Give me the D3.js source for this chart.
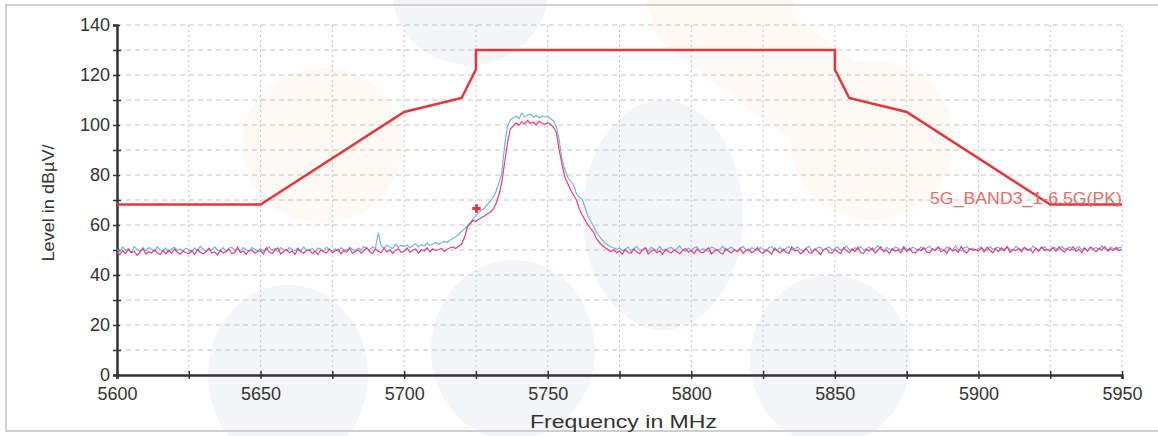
<!DOCTYPE html>
<meta charset="utf-8">
<style>
body { margin: 0; background: #fff; }
text { font-family: "Liberation Sans", Arial, sans-serif; fill: #333; }
</style>
<body>
<script src="https://d3js.org/d3.v7.min.js"></script>
<script>

// sweep: 5600 MHz, one reading per MHz
var sweepStart = 5600, sweepStep = 1;

// pink trace (dBuV/m), 25 readings per row
var tracePink = [
  49.2,48.1,49.8,48.6,50.3,48.9,49.5,47.9,49.1,50.6,48.4,49.3,48.8,50.1,49.0,48.2,49.7,48.5,49.9,48.7,50.4,49.1,48.3,49.6,48.9,
  48.6,49.8,48.2,50.2,49.1,48.5,49.4,50.7,48.8,49.2,48.0,49.9,48.7,49.5,50.3,48.6,49.0,51.2,48.9,49.6,48.3,49.8,50.0,48.7,49.4,
  49.7,48.4,50.9,49.2,48.6,49.9,50.8,48.5,49.3,50.2,48.9,49.6,48.2,50.5,49.4,48.7,49.8,50.1,48.6,49.5,48.3,50.0,49.2,48.8,50.4,
  48.9,49.6,50.3,48.5,49.8,49.1,50.6,48.7,49.4,50.0,48.8,49.7,50.9,49.3,48.6,50.4,49.5,48.9,50.8,49.2,50.1,48.7,49.9,50.5,49.0,
  49.5,50.8,49.1,49.9,50.4,48.8,50.2,49.6,50.9,49.3,50.5,49.8,50.1,50.7,49.4,50.3,50.9,51.2,50.6,51.5,52.3,55.0,59.0,60.5,61.8,
  61.5,62.3,63.0,63.6,64.5,65.2,66.3,68.5,72.0,77.0,85.0,93.0,98.5,99.6,100.8,99.9,101.3,100.4,101.8,100.6,101.2,100.1,101.5,100.7,100.3,
  100.9,100.2,99.1,97.0,90.0,84.0,79.0,76.5,74.0,72.0,70.0,66.5,64.0,62.0,60.0,58.5,57.0,54.5,53.0,51.8,50.9,50.2,49.4,50.1,48.9,
  49.6,48.3,50.2,49.0,48.7,50.5,49.2,48.6,49.9,50.8,48.4,49.5,50.1,48.9,49.7,48.2,50.3,49.4,48.8,50.0,49.3,48.5,49.8,50.6,49.1,
  49.9,48.6,50.4,49.2,48.9,49.7,50.9,48.5,49.4,50.2,49.0,48.3,50.6,49.5,48.8,50.1,49.3,50.7,48.6,49.8,50.3,48.9,49.6,51.0,49.2,
  48.7,50.1,49.4,48.4,50.8,49.6,48.9,50.3,49.1,48.6,51.2,49.7,50.0,48.5,49.3,50.6,49.0,48.8,50.4,49.5,48.2,49.9,50.7,49.1,48.7,
  50.2,49.3,48.6,50.9,49.8,48.9,50.5,49.4,51.1,49.0,48.7,50.3,49.6,50.8,48.8,49.9,51.3,49.2,50.0,48.6,50.6,49.5,50.2,48.9,51.0,
  49.4,50.7,49.1,48.8,50.4,49.7,51.0,49.2,48.9,50.5,49.8,51.2,49.3,50.0,48.7,50.9,49.6,50.3,49.0,51.4,49.5,48.8,50.6,49.9,50.2,
  49.6,50.8,49.2,51.1,49.9,48.9,50.5,49.4,50.9,49.7,51.3,49.0,50.2,49.8,50.6,49.3,51.0,49.9,50.4,48.9,50.7,49.5,51.2,49.8,50.1,
  49.7,50.9,49.4,51.2,50.0,49.1,50.6,49.8,51.3,49.5,50.4,48.9,50.8,49.6,51.1,50.2,49.3,50.7,49.9,51.4,49.6,50.5,49.8,51.0,49.7,
  50.3
];

// blue trace (dBuV/m)
var traceBlue = [
  50.1,49.3,51.2,49.8,50.6,48.9,51.4,50.2,49.5,50.9,49.7,51.0,50.3,49.4,51.3,50.0,49.6,50.8,49.2,50.5,51.1,49.9,50.4,49.6,50.7,
  50.2,49.1,50.8,49.7,51.5,50.3,49.4,50.6,49.9,51.2,50.0,49.5,50.9,49.3,50.7,51.1,49.8,50.4,49.6,50.9,50.2,49.4,51.0,50.3,49.7,
  50.6,49.5,50.1,51.3,49.8,50.7,49.2,50.9,50.3,49.6,51.0,50.2,49.7,50.8,49.4,51.2,50.0,49.9,50.6,49.3,50.8,50.4,49.6,51.1,50.0,
  49.7,50.5,49.4,50.9,50.2,49.8,51.1,50.3,49.6,50.8,50.0,51.4,50.6,49.9,51.2,50.7,57.0,51.5,50.8,51.9,51.2,50.6,52.3,51.0,51.8,
  51.4,52.0,50.9,51.8,52.5,51.2,52.1,51.6,52.8,51.9,52.4,53.0,52.2,52.9,53.4,53.1,54.0,54.6,55.3,56.2,57.5,58.4,59.6,61.0,62.3,
  63.8,65.1,66.0,66.8,68.2,69.4,71.0,73.5,76.8,80.5,92.0,99.5,102.0,102.9,103.5,102.6,104.8,103.3,103.9,104.4,103.1,104.0,102.8,103.6,103.2,
  103.4,102.5,101.6,99.5,94.0,86.0,82.0,79.0,77.5,76.0,72.5,71.0,70.3,67.0,63.5,61.5,59.5,57.0,55.5,54.0,52.8,52.0,51.2,50.8,50.3,
  50.8,49.7,50.3,51.2,49.5,50.6,51.4,49.9,50.2,50.9,49.6,51.1,50.4,49.8,51.3,50.1,49.5,50.7,51.0,49.9,50.5,51.6,50.0,49.4,50.8,
  49.8,50.9,51.3,49.6,50.5,50.0,49.4,51.2,50.7,49.9,50.3,51.5,49.7,50.6,51.1,50.2,49.5,50.8,51.4,50.0,49.6,50.9,50.3,49.8,51.0,
  50.4,49.5,50.9,51.3,49.8,50.2,51.0,49.6,50.7,51.4,49.9,50.5,51.2,50.1,49.7,50.8,51.5,49.4,50.3,50.9,51.1,49.8,50.6,51.3,50.0,
  50.7,51.2,49.9,50.4,51.6,50.1,49.7,50.9,50.3,51.4,49.8,50.6,51.1,49.9,50.5,51.7,50.2,49.6,51.0,50.4,49.8,51.3,50.7,50.0,51.5,
  50.3,49.8,51.1,50.6,49.7,51.3,50.2,50.8,51.5,49.9,50.4,51.0,50.6,49.8,51.2,50.5,50.0,51.6,50.3,49.7,50.9,51.3,50.1,50.7,49.9,
  50.6,51.2,50.0,49.7,51.4,50.3,50.9,51.1,49.8,50.5,51.3,50.2,49.9,51.5,50.7,50.1,51.0,50.4,49.8,51.6,50.6,50.0,50.8,51.3,50.2,
  50.4,51.1,50.7,49.9,51.5,50.3,50.8,51.2,49.8,50.6,51.4,50.1,50.9,49.7,51.3,50.5,51.0,50.2,51.6,50.4,49.9,51.2,50.6,50.0,51.1,
  50.8
];

// limit line 5G_BAND3_1-6.5G(PK)
var limitFreq  = [5600, 5650, 5700, 5720, 5725, 5725, 5850, 5850, 5855, 5875, 5925, 5950];
var limitLevel = [68.2, 68.2, 105.2, 110.8, 122.2, 130, 130, 122.2, 110.8, 105.2, 68.2, 68.2];
var limitName = "5G_BAND3_1-6.5G(PK)";

// marker
var markerFreq = [5725.2];
var markerLevel = [66.6];

var xTicks = [5600, 5650, 5700, 5750, 5800, 5850, 5900, 5950];
var xMinor = [5625, 5675, 5725, 5775, 5825, 5875, 5925];
var yTicks = [0, 20, 40, 60, 80, 100, 120, 140];
var yMinor = [10, 30, 50, 70, 90, 110, 130];

var W = 1158, H = 436;
var margin = {top: 25, right: 36, bottom: 61, left: 117};
var width = W - margin.left - margin.right,
    height = H - margin.top - margin.bottom;

var svg = d3.select("body").append("svg")
    .attr("width", W)
    .attr("height", H);

// faint background watermark blobs
var blobs = [
  {cx: 470, cy: -10, rx: 78, ry: 75, c: "#f3f5f9"},
  {cx: 663, cy: 215, rx: 80, ry: 115, c: "#f3f5f9"},
  {cx: 288, cy: 375, rx: 80, ry: 90, c: "#f3f5f9"},
  {cx: 513, cy: 350, rx: 82, ry: 90, c: "#f3f5f9"},
  {cx: 830, cy: 360, rx: 80, ry: 85, c: "#f3f5f9"},
  {cx: 322, cy: 145, rx: 80, ry: 78, c: "#fefaf3"},
  {cx: 720, cy: 0, rx: 75, ry: 40, c: "#fefaf3"},
  {cx: 872, cy: 140, rx: 82, ry: 80, c: "#fefaf3"}
];
svg.selectAll(".blob")
  .data(blobs)
  .enter().append("ellipse")
    .attr("cx", function(d) { return d.cx; })
    .attr("cy", function(d) { return d.cy; })
    .attr("rx", function(d) { return d.rx; })
    .attr("ry", function(d) { return d.ry; })
    .attr("fill", function(d) { return d.c; });
svg.append("line").attr("x1", 700).attr("y1", 10).attr("x2", 850).attr("y2", 120)
    .attr("stroke", "#fefaf3").attr("stroke-width", 100).attr("stroke-linecap", "round");

// frame
svg.append("path")
    .attr("d", "M" + W + ",5H6V431H" + W)
    .attr("fill", "none")
    .attr("stroke", "#cfcfcf")
    .attr("stroke-width", 2);

var g = svg.append("g")
    .attr("transform", "translate(" + margin.left + "," + margin.top + ")");

var x = d3.scaleLinear().domain([5600, 5950]).range([0, width]);
var y = d3.scaleLinear().domain([0, 140]).range([height, 0]);

// grid
g.selectAll(".hgrid")
  .data(yTicks.concat(yMinor).filter(function(v) { return v > 0; }))
  .enter().append("line")
    .attr("x1", 0).attr("x2", width)
    .attr("y1", function(d) { return y(d); })
    .attr("y2", function(d) { return y(d); })
    .attr("stroke", "#c4c4c4")
    .attr("stroke-dasharray", "5,4");
g.selectAll(".vgrid")
  .data(xTicks.concat(xMinor).filter(function(v) { return v > 5600; }))
  .enter().append("line")
    .attr("y1", 0).attr("y2", height)
    .attr("x1", function(d) { return x(d); })
    .attr("x2", function(d) { return x(d); })
    .attr("stroke", "#c4c4c4")
    .attr("stroke-dasharray", "2,3");

// axes
var xAxis = g.append("g")
    .attr("transform", "translate(0," + height + ")")
    .call(d3.axisBottom(x).tickValues(xTicks).tickSize(4).tickPadding(8).tickFormat(d3.format("d")));
var xAxisMinor = g.append("g")
    .attr("transform", "translate(0," + height + ")")
    .call(d3.axisBottom(x).tickValues(xMinor).tickSize(4).tickFormat(""));
var yAxis = g.append("g")
    .call(d3.axisLeft(y).tickValues(yTicks).tickSize(4).tickPadding(3));
var yAxisMinor = g.append("g")
    .call(d3.axisLeft(y).tickValues(yMinor).tickSize(4).tickFormat(""));

[xAxis, xAxisMinor, yAxis, yAxisMinor].forEach(function(a) {
  a.select(".domain").attr("stroke", "#333").attr("stroke-width", 2);
  a.selectAll(".tick line").attr("stroke", "#333").attr("stroke-width", 1.5);
  a.selectAll("text").style("font-size", "18px").attr("fill", "#333");
});
// ticks crossing the axis line
xAxis.selectAll(".tick line").attr("y1", -4);
xAxisMinor.selectAll(".tick line").attr("y1", -4);
yAxis.selectAll(".tick line").attr("x1", 3);
yAxisMinor.selectAll(".tick line").attr("x1", 4);

// traces
var trace = d3.line()
    .x(function(d, i) { return x(sweepStart + i * sweepStep); })
    .y(function(d) { return y(d); });

g.append("path")
    .datum(traceBlue)
    .attr("fill", "none")
    .attr("stroke", "#72b4e8")
    .attr("stroke-width", 1.2)
    .attr("d", trace);
g.append("path")
    .datum(tracePink)
    .attr("fill", "none")
    .attr("stroke", "#e6407a")
    .attr("stroke-width", 1.2)
    .attr("d", trace);

// limit line
g.append("path")
    .datum(limitFreq.map(function(f, i) { return [f, limitLevel[i]]; }))
    .attr("fill", "none")
    .attr("stroke", "#e53640")
    .attr("stroke-width", 2.5)
    .attr("d", d3.line()
        .x(function(d) { return x(d[0]); })
        .y(function(d) { return y(d[1]); }));

g.append("text")
    .attr("x", width)
    .attr("y", y(limitLevel[limitLevel.length - 1]) - 1)
    .attr("text-anchor", "end")
    .attr("textLength", 192)
    .attr("lengthAdjust", "spacingAndGlyphs")
    .style("font-size", "16.5px")
    .style("fill", "#e0706a")
    .text(limitName);

// marker
g.selectAll(".marker")
  .data(markerFreq)
  .enter().append("path")
    .attr("transform", function(d, i) { return "translate(" + x(d) + "," + y(markerLevel[i]) + ")"; })
    .attr("d", d3.symbol().type(d3.symbolCross).size(40))
    .attr("fill", "#e53640");

// axis titles
g.append("text")
    .attr("x", width / 2 + 4)
    .attr("y", height + 53)
    .attr("text-anchor", "middle")
    .attr("textLength", 187)
    .attr("lengthAdjust", "spacingAndGlyphs")
    .style("font-size", "17.5px")
    .text("Frequency in MHz");

g.append("text")
    .attr("transform", "translate(" + (-63) + "," + (height / 2 + 3) + ") rotate(-90)")
    .attr("text-anchor", "middle")
    .attr("textLength", 117)
    .attr("lengthAdjust", "spacingAndGlyphs")
    .style("font-size", "16.5px")
    .text("Level in dBµV/");

</script>
</body>
